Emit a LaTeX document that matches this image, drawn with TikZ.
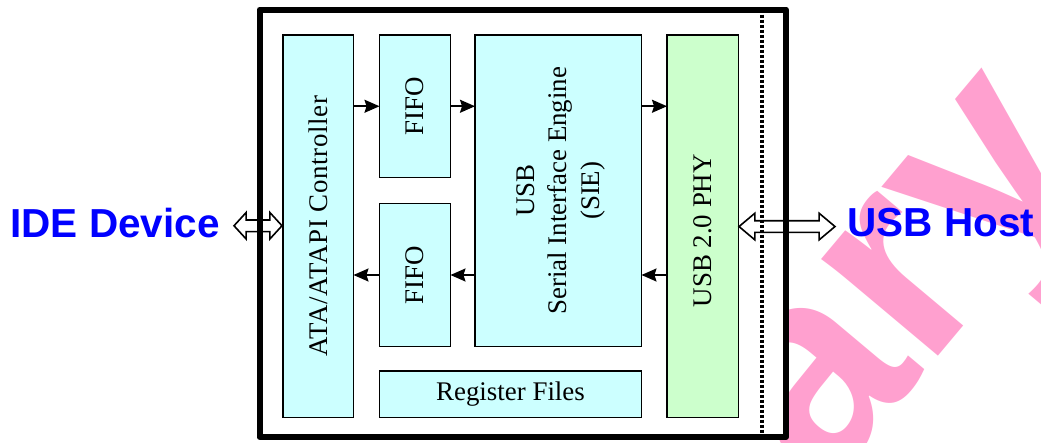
\documentclass[tikz,border=0pt]{standalone}
\usepackage{fontspec}
\setmainfont{Liberation Serif}
\newfontfamily\sansb{Liberation Sans}
\usetikzlibrary{arrows.meta,shapes.arrows,calc}
\definecolor{boxcyan}{RGB}{204,255,255}
\definecolor{boxgreen}{RGB}{204,255,204}
\definecolor{labblue}{RGB}{0,0,255}
\definecolor{wmpink}{RGB}{255,160,207}
\begin{document}
\begin{tikzpicture}[x=1pt,y=-1pt,
  blk/.style={draw=black, line width=1.6pt, fill=boxcyan, inner sep=0pt, outer sep=0pt},
  txt/.style={inner sep=0pt, align=center, font=\fontsize{26.9}{32.5}\selectfont},
  vtxt/.style={txt, rotate=90},
  flow/.style={line width=1.6pt, -{Stealth[length=15pt,width=13pt,inset=2pt]}},
  harrow/.style={double arrow, draw=black, fill=white, line width=1.6pt,
    inner xsep=0pt, inner ysep=5pt, outer sep=0pt, minimum width=25pt,
    double arrow head extend=7.5pt, double arrow head indent=0pt},
  biglab/.style={inner sep=0pt, text=labblue, font=\sansb\bfseries\fontsize{40.5}{40.5}\selectfont},
  frameline/.style={line width=6pt, line join=round},
  dotline/.style={line width=3.5pt, dash pattern=on 3pt off 2pt}
]
\useasboundingbox (0,0) rectangle (1041,442);
\clip (0,0) rectangle (1041,442);
% watermark
\node[rotate=50, anchor=base west, inner sep=0pt, text=wmpink,
  font=\sansb\bfseries\fontsize{287}{287}\selectfont] (wm) at (822.4,494.3) {ary};
% frame background
\node[fill=white, inner sep=0pt, outer sep=0pt, minimum width=526.5pt, minimum height=427.5pt] (frame) at (522.75,223.25) {};
% blocks
\node[blk, minimum width=70.5pt, minimum height=382.5pt] (ata) at (318.25,226.25) {};
\node[blk, minimum width=71pt, minimum height=142.5pt] (fifoA) at (415,106.25) {};
\node[blk, minimum width=71pt, minimum height=143pt] (fifoB) at (415,275) {};
\node[blk, minimum width=166.5pt, minimum height=311.5pt] (sie) at (558.25,190.75) {};
\node[blk, minimum width=262pt, minimum height=46.5pt] (reg) at (510.5,394.25) {};
\node[blk, fill=boxgreen, minimum width=71.5pt, minimum height=382.5pt] (phy) at (702.75,226.25) {};
% texts
\node[vtxt] (ataT) at (ata.center) {\addfontfeatures{LetterSpace=2.5}ATA/ATAPI Controller};
\node[vtxt] (fifoAT) at (fifoA.center) {FIFO};
\node[vtxt] (fifoBT) at (fifoB.center) {FIFO};
\node[vtxt] (sieT) at ($(sie.center)+(2.5,0)$) {USB\\Serial Interface Engine\\(SIE)};
\node[txt] (regT) at (reg.center) {Register Files};
\node[vtxt] (phyT) at ($(phy.center)+(0,4.5)$) {USB 2.0 PHY};
% data flow arrows
\draw[flow] (ata.east |- fifoA) -- (fifoA.west);
\draw[flow] (fifoA.east) -- (sie.west |- fifoA);
\draw[flow] (sie.east |- fifoA) -- (phy.west |- fifoA);
\draw[flow] (fifoB.west) -- (ata.east |- fifoB);
\draw[flow] (sie.west |- fifoB) -- (fifoB.east);
\draw[flow] (phy.west |- fifoB) -- (sie.east |- fifoB);
% outside labels
\node[biglab, anchor=base east] (ide) at (220,237.6) {IDE Device};
\node[biglab, anchor=base west] (host) at (847.5,236.7) {USB Host};
% hollow double arrows
\node[harrow, minimum height=48pt, double arrow tip angle=95] (lda) at ($(ata.west)+(-25,-0.5)$) {};
\node[harrow, minimum height=96pt, double arrow tip angle=80] (rda) at ($(phy.east)+(48.5,0.3)$) {};
% dotted boundary and frame
\coordinate (dtop) at (762,9.5);
\coordinate (dbot) at (762,437);
\draw[dotline] (dtop) -- (dbot);
\draw[frameline] (frame.north west) rectangle (frame.south east);
\end{tikzpicture}
\end{document}
